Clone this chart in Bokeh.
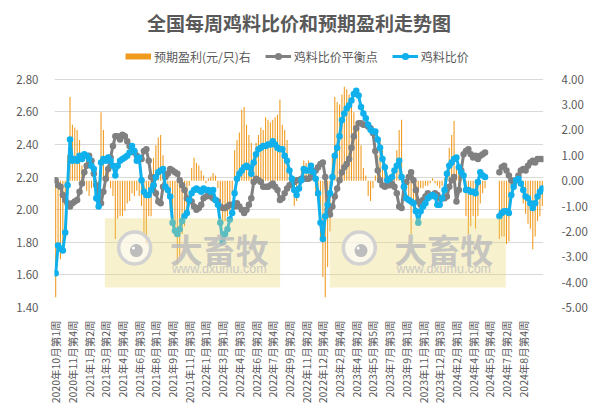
import math
import numpy as np
from bokeh.plotting import figure
from bokeh.models import (Range1d, LinearAxis, FixedTicker, NumeralTickFormatter,
                          Legend, LegendItem, ColumnDataSource)
from bokeh.embed import file_html
from bokeh.resources import INLINE
from bokeh.core.properties import value

title_text = "全国每周鸡料比价和预期盈利走势图"
series_names = ["预期盈利(元/只)右", "鸡料比价平衡点", "鸡料比价"]

tick_labels = [
    "2020年10月第1周", "2020年11月第4周", "2021年1月第2周", "2021年3月第2周",
    "2021年4月第4周", "2021年6月第3周", "2021年8月第1周", "2021年9月第4周",
    "2021年11月第3周", "2022年1月第1周", "2022年3月第1周", "2022年4月第3周",
    "2022年6月第2周", "2022年7月第4周", "2022年9月第2周", "2022年11月第2周",
    "2022年12月第4周", "2023年2月第4周", "2023年4月第2周", "2023年5月第5周",
    "2023年7月第3周", "2023年9月第1周", "2023年11月第1周", "2023年12月第3周",
    "2024年2月第1周", "2024年4月第1周", "2024年5月第4周", "2024年7月第2周",
    "2024年8月第4周",
]
tick_step = 7

# 鸡料比价 (left axis)
ratio = [
    1.61, 1.78, 1.76, 1.75, 1.86, 2.15, 2.43, 2.30, 2.31, 2.30,
    2.33, 2.31, 2.34, 2.33, 2.31, 2.27, 2.25, 2.07, 2.02, 2.29,
    2.31, 2.30, 2.32, 2.30, 2.27, 2.21, 2.27, 2.30, 2.31, 2.32,
    2.33, 2.35, 2.39, 2.36, 2.30, 2.32, 2.18, 2.11, 2.09, 2.09,
    2.12, 2.15, 2.20, 2.23, 2.24, 2.25, 2.14, 2.12, 2.08, 1.92,
    1.87, 1.85, 1.88, 1.93, 1.96, 1.98, 2.06, 2.10, 2.12, 2.13,
    2.12, 2.11, 2.13, 2.12, 2.12, 2.11, 2.12, 2.06, 2.03, 1.92,
    1.80, 1.85, 1.88, 1.94, 1.98, 2.10, 2.19, 2.22, 2.24, 2.26,
    2.27, 2.26, 2.22, 2.29, 2.34, 2.37, 2.38, 2.39, 2.39, 2.40,
    2.40, 2.42, 2.40, 2.38, 2.37, 2.37, 2.33, 2.30, 2.24, 2.19,
    2.12, 2.09, 2.13, 2.18, 2.25, 2.24, 2.24, 2.27, 2.23, 2.19,
    2.10, 1.92, 1.82, 1.96, 2.03, 2.10, 2.20, 2.33, 2.38, 2.45,
    2.55, 2.59, 2.62, 2.64, 2.67, 2.71, 2.73, 2.70, 2.63, 2.59,
    2.56, 2.52, 2.49, 2.48, 2.48, 2.43, 2.38, 2.31, 2.26, 2.18,
    2.19, 2.20, 2.24, 2.27, 2.30, 2.20, 2.14, 2.07, 2.06, 2.05,
    2.04, 1.99, 1.92, 1.99, 2.02, 2.04, 2.07, 2.08, 2.09, 2.08,
    2.03, 2.03, 2.07, 2.12, 2.22, 2.27, 2.29, 2.31, 2.32, 2.26,
    2.23, 2.21, 2.12, 2.12, 2.11, 2.11, 2.10, 2.17, 2.23, 2.21,
    2.20, None, None, None, None, None, 1.96, 1.98, 1.99, 1.99,
    1.98, 2.09, 2.14, 2.18, 2.19, 2.16, 2.12, 2.08, 2.07, 2.04,
    2.01, 2.04, 2.08, 2.11, 2.13,
]

# 鸡料比价平衡点 (left axis)
breakeven = [
    2.18, 2.15, 2.14, 2.09, 2.06, 2.04, 2.02, 2.04, 2.05, 2.06,
    2.11, 2.16, 2.23, 2.27, 2.33, 2.30, 2.22, 2.15, 2.08, 2.04,
    2.11, 2.19, 2.25, 2.32, 2.39, 2.45, 2.45, 2.43, 2.46, 2.45,
    2.42, 2.39, 2.37, 2.35, 2.33, 2.31, 2.31, 2.36, 2.37, 2.30,
    2.20, 2.15, 2.10, 2.05, 2.04, 2.14, 2.20, 2.22, 2.25, 2.24,
    2.23, 2.22, 2.18, 2.15, 2.12, 2.07, 2.06, 2.05, 2.02, 2.00,
    2.01, 2.03, 2.07, 2.08, 2.09, 2.08, 2.07, 2.06, 2.05, 2.02,
    2.01, 2.01, 2.02, 2.03, 2.03, 2.02, 2.04, 2.02, 2.00, 1.98,
    2.00, 2.03, 2.07, 2.17, 2.19, 2.18, 2.17, 2.14, 2.14, 2.14,
    2.15, 2.16, 2.14, 2.12, 2.06, 2.07, 2.10, 2.13, 2.15, 2.16,
    2.17, 2.18, 2.18, 2.19, 2.19, 2.19, 2.19, 2.20, 2.22, 2.24,
    2.26, 2.28, 2.29, 2.20, 2.00, 1.97, 2.02, 2.08, 2.13, 2.18,
    2.23, 2.26, 2.28, 2.31, 2.38, 2.45, 2.50, 2.53, 2.53, 2.52,
    2.52, 2.51, 2.50, 2.47, 2.36, 2.24, 2.18, 2.15, 2.14, 2.15,
    2.15, 2.16, 2.14, 2.10, 2.02, 2.01, 2.14, 2.17, 2.20, 2.23,
    2.18, 2.12, 2.05, 2.03, 2.06, 2.08, 2.10, 2.09, 2.09, 2.10,
    2.09, 2.07, 2.07, 2.07, 2.08, 2.14, 2.18, 2.20, 2.05, 2.12,
    2.24, 2.34, 2.36, 2.37, 2.34, 2.32, 2.33, 2.31, 2.33, 2.34,
    2.35, None, None, None, None, None, 2.23, 2.26, 2.27, 2.24,
    2.21, 2.18, 2.16, 2.18, 2.21, 2.24, 2.25, 2.24, 2.27, 2.29,
    2.30, 2.29, 2.31, 2.31, 2.31,
]

# 预期盈利(元/只) (right axis)
profit = [
    -4.6, -2.6, -3.1, -2.7, -1.0, 1.0, 3.3, 2.2, 2.1, 2.0,
    1.6, 0.6, -0.2, -0.4, -0.6, -0.3, -0.2, -0.5, -0.4, 2.7,
    2.0, 0.5, 0.3, -0.3, -0.6, -2.3, -1.5, -1.4, -1.4, -1.2,
    -0.9, -0.8, -0.5, -0.6, -0.4, -0.6, -1.0, -2.2, -2.5, -1.4,
    -1.4, 0.9, 1.4, 1.7, 1.8, 1.0, -0.3, -0.6, -1.2, -1.8,
    -2.2, -3.3, -3.0, -2.1, -1.8, -1.4, -0.2, 0.5, 0.9, 0.7,
    0.6, 0.4, 0.2, -0.1, 0.1, 0.15, 0.3, 0.2, -0.3, -0.9,
    -1.7, -1.6, -1.4, -1.2, -0.5, 1.2, 1.6, 1.9, 2.8, 2.9,
    2.2, 1.8, 1.5, 1.1, 1.5, 1.8, 2.1, 2.0, 2.5, 2.4,
    2.3, 2.4, 2.5, 2.6, 3.2, 2.2, 2.0, 1.6, 0.5, -0.3,
    -1.0, -0.8, -0.2, 0.4, 0.8, 0.7, 0.8, 0.5, 0.1, -0.6,
    -0.8, -2.3, -3.8, -4.6, -3.4, -2.0, 1.0, 3.3, 3.1, 3.0,
    3.4, 3.7, 3.6, 3.4, 3.2, 2.7, 2.3, 2.0, 1.4, 0.5,
    0.2, -0.6, -0.8, -0.3, 0.2, 1.0, 1.6, 1.2, 0.5, 0.2,
    0.2, 0.3, 0.4, 1.2, 2.0, 2.4, -0.2, -0.4, -0.6, -2.1,
    -1.2, -0.8, -0.5, -0.3, -0.3, -0.2, -0.2, -0.1, 0.1, -0.1,
    -0.2, -0.3, -0.2, 0.1, 0.3, 1.3, 1.8, 2.35, 0.5, 0.4,
    0.3, 0.1, -1.4, -2.1, -1.8, -1.4, -1.9, -1.4, -0.9, -0.5,
    -0.3, None, None, None, None, None, -2.3, -2.2, -2.2, -2.5,
    -2.4, -0.5, -0.3, 0.1, 0.3, -0.2, -0.9, -1.3, -1.7, -1.9,
    -2.7, -2.2, -1.6, -1.4, -1.0,
]

left_ticks = [1.4, 1.6, 1.8, 2.0, 2.2, 2.4, 2.6, 2.8]
right_ticks = [-5, -4, -3, -2, -1, 0, 1, 2, 3, 4]

# the frame extends above the top gridline to hold the legend
left_range = (1.4, 3.0313)
right_range = (-5.0, 5.487)

# watermark decoration (data-space placement)
wm_left = [20.6, 114.9]
wm_right = [94.1, 188.7]
wm_top = 1.948
wm_bottom = 1.522
wm_logo_x = [33.1, 127.3]
wm_logo_y = 1.765
wm_text_x = [68.6, 162.7]
wm_text_y = 1.759
wm_url_y = 1.636

FONT = "Noto Sans CJK SC"
TXT = "#595959"
ORANGE = "#F09A1E"
GRAY = "#808080"
BLUE = "#10B0EC"


def arr(v):
    return np.array([np.nan if a is None else a for a in v], dtype=float)


n = len(ratio)
src = ColumnDataSource(dict(
    x=list(range(n)),
    ratio=arr(ratio),
    breakeven=arr(breakeven),
    profit=arr(profit),
))

p = figure(width=590, height=406, output_backend="svg", toolbar_location=None,
           x_range=Range1d(-0.5, n - 0.5), y_range=Range1d(*left_range),
           min_border_left=54, min_border_right=42, min_border_top=40,
           min_border_bottom=98)
p.extra_y_ranges = {"r": Range1d(*right_range)}
p.outline_line_color = None

p.title.text = title_text
p.title.align = "center"
p.title.text_font = FONT
p.title.text_font_size = "19px"
p.title.text_font_style = "bold"
p.title.text_color = TXT
p.title.standoff = 12

# axes
xa = p.xaxis[0]
xa.ticker = FixedTicker(ticks=[i * tick_step for i in range(len(tick_labels))])
xa.major_label_overrides = {i * tick_step: lab for i, lab in enumerate(tick_labels)}
xa.major_label_orientation = math.pi / 2
xa.major_label_text_font = FONT
xa.major_label_text_font_size = "10.5px"
xa.major_label_text_color = TXT
xa.major_label_standoff = 7
xa.major_tick_line_color = None
xa.minor_tick_line_color = None
xa.axis_line_color = None

ya = p.yaxis[0]
ya.ticker = FixedTicker(ticks=left_ticks)
ya.formatter = NumeralTickFormatter(format="0.00")
ya.major_label_text_font = FONT
ya.major_label_text_font_size = "11.5px"
ya.major_label_text_color = TXT
ya.major_label_standoff = 10
ya.major_tick_line_color = None
ya.minor_tick_line_color = None
ya.axis_line_color = None

ra = LinearAxis(y_range_name="r", ticker=FixedTicker(ticks=right_ticks),
                formatter=NumeralTickFormatter(format="0.00"))
ra.major_label_text_font = FONT
ra.major_label_text_font_size = "11.5px"
ra.major_label_text_color = TXT
ra.major_label_standoff = 12
ra.major_tick_line_color = None
ra.minor_tick_line_color = None
ra.axis_line_color = None
p.add_layout(ra, "right")

p.xgrid.visible = False
p.ygrid.grid_line_color = "#D9D9D9"
p.ygrid.grid_line_width = 1

# data
bars = p.vbar(x="x", top="profit", bottom=0, width=0.45, source=src,
              y_range_name="r", fill_color=ORANGE, line_color=None)
gl = p.line("x", "breakeven", source=src, line_color=GRAY, line_width=3)
gs = p.scatter("x", "breakeven", source=src, size=6.5, fill_color=GRAY, line_color=None)
bl = p.line("x", "ratio", source=src, line_color=BLUE, line_width=3)
bs = p.scatter("x", "ratio", source=src, size=6.5, fill_color=BLUE, line_color=None)
# legend key for the bars: a short thick orange stroke
bar_key = p.line(x=[np.nan], y=[np.nan], line_color=ORANGE, line_width=6)

# watermark overlay
p.quad(left=wm_left, right=wm_right, top=[wm_top] * 2, bottom=[wm_bottom] * 2,
       fill_color="#E8D870", fill_alpha=0.35, line_color=None)
p.scatter(x=wm_logo_x, y=[wm_logo_y] * 2, size=32, fill_color="white", fill_alpha=0.6,
          line_color="#D2D2D2", line_width=3.5)
p.scatter(x=[v + 0.7 for v in wm_logo_x], y=[wm_logo_y - 0.016] * 2, size=13,
          fill_color="#BDBDBD", line_color=None)
p.scatter(x=[v - 0.5 for v in wm_logo_x], y=[wm_logo_y] * 2, size=3,
          fill_color="white", line_color=None)
p.text(x=wm_text_x, y=[wm_text_y] * 2, text=["大畜牧"] * 2, text_font=value(FONT),
       text_font_size="33px", text_font_style="bold", text_color="#BDBDBD",
       text_alpha=0.85, text_align="center", text_baseline="middle")
p.text(x=wm_text_x, y=[wm_url_y] * 2, text=["www.dxumu.com"] * 2,
       text_font=value("Liberation Sans"), text_font_size="12.5px", text_color="#C4C4C4",
       text_alpha=0.9, text_align="center", text_baseline="middle")

legend = Legend(items=[
    LegendItem(label=series_names[0], renderers=[bar_key]),
    LegendItem(label=series_names[1], renderers=[gl, gs]),
    LegendItem(label=series_names[2], renderers=[bl, bs]),
], location=(71, 242), orientation="horizontal", glyph_width=26, glyph_height=18,
    label_height=14, label_standoff=3, spacing=14, padding=0, margin=0,
    border_line_color=None, background_fill_alpha=0,
    label_text_font=FONT, label_text_font_size="12px", label_text_color=TXT)
p.add_layout(legend)

open("out.html", "w").write(file_html(p, INLINE))
